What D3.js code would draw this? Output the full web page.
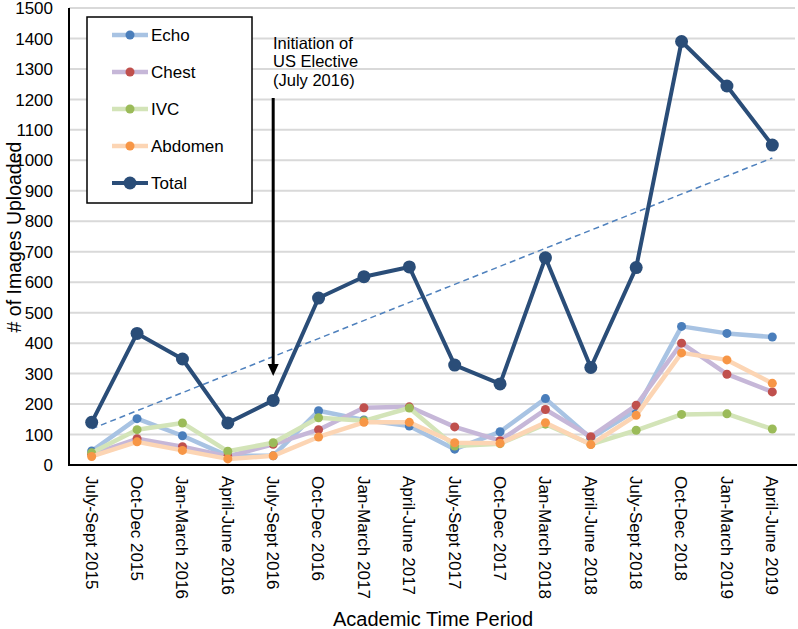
<!DOCTYPE html>
<html><head><meta charset="utf-8">
<script src="https://cdn.jsdelivr.net/npm/d3@7"></script>
<style>body{margin:0;background:#fff}svg{display:block;font-family:"Liberation Sans",Arial,Helvetica,sans-serif}</style>
</head><body><svg id="c" width="798" height="629"></svg>
<script>
const categories = ["July-Sept 2015","Oct-Dec 2015","Jan-March 2016","April-June 2016","July-Sept 2016","Oct-Dec 2016","Jan-March 2017","April-June 2017","July-Sept 2017","Oct-Dec 2017","Jan-March 2018","April-June 2018","July-Sept 2018","Oct-Dec 2018","Jan-March 2019","April-June 2019"];
const echo    = [46,152,96,30,30,178,148,128,52,109,218,88,180,455,432,420];
const chest   = [35,86,60,28,68,116,188,191,125,80,182,93,196,400,298,240];
const ivc     = [40,116,138,45,73,155,145,187,62,70,134,68,114,166,168,118];
const abdomen = [28,76,48,20,30,92,140,140,73,71,139,67,163,368,345,268];
const total   = [140,432,348,138,212,548,618,650,328,266,680,320,648,1390,1244,1050];
const yTicks  = [0,100,200,300,400,500,600,700,800,900,1000,1100,1200,1300,1400,1500];

const series = [
  {name:"Echo", values:echo, line:"#a8c3e3", dot:"#4a7ebb"},
  {name:"Chest", values:chest, line:"#c6b7d8", dot:"#c0504d"},
  {name:"IVC", values:ivc, line:"#d3e4b8", dot:"#9bbb59"},
  {name:"Abdomen", values:abdomen, line:"#fcd5b4", dot:"#f79646"},
  {name:"Total", values:total, line:"#2a4d78", dot:"#2a4d78", big:true}
];

const svg = d3.select("#c");
const L=69, R=795, T=8, B=465;
const x = d3.scaleBand().domain(categories).range([L,R]);
const y = d3.scaleLinear().domain([0,1500]).range([B,T]);
const cx = c => x(c)+x.bandwidth()/2;

// gridlines
svg.append("g").selectAll("line").data(yTicks.filter(d=>d>0)).join("line")
  .attr("x1",L).attr("x2",R).attr("y1",d=>y(d)).attr("y2",d=>y(d))
  .attr("stroke","#d9d9d9").attr("stroke-width",2);

// y tick labels
svg.append("g").selectAll("text").data(yTicks).join("text")
  .attr("x",53).attr("y",d=>y(d)).attr("dy","0.36em").attr("text-anchor","end")
  .attr("font-size",17).attr("fill","#000").text(d=>d);

// x tick labels
svg.append("g").selectAll("text").data(categories).join("text")
  .attr("transform",d=>`translate(${cx(d)},476) rotate(90)`)
  .attr("dy","0.36em").attr("text-anchor","start").attr("font-size",17).attr("fill","#000").text(d=>d);

// axis titles
svg.append("text").attr("x",433).attr("y",626).attr("text-anchor","middle")
  .attr("font-size",20).text("Academic Time Period");
svg.append("text").attr("transform",`translate(14,237) rotate(-90)`).attr("dy","0.36em").attr("text-anchor","middle")
  .attr("font-size",19.5).text("# of Images Uploaded");

const line = d3.line().x((d,i)=>cx(categories[i])).y(d=>y(d));

// sub series
series.filter(s=>!s.big).forEach(s=>{
  const g = svg.append("g");
  g.append("path").attr("d",line(s.values)).attr("fill","none").attr("stroke",s.line)
    .attr("stroke-width",4.5).attr("stroke-linejoin","round");
  g.selectAll("circle").data(s.values).join("circle")
    .attr("cx",(d,i)=>cx(categories[i])).attr("cy",d=>y(d)).attr("r",4.5).attr("fill",s.dot);
});

// linear trend of total
const n = total.length, xm = d3.mean(d3.range(n)), ym = d3.mean(total);
const slope = d3.sum(total,(v,i)=>(i-xm)*(v-ym))/d3.sum(d3.range(n),i=>(i-xm)*(i-xm));
const icpt = ym - slope*xm;
svg.append("line").attr("x1",cx(categories[0])).attr("y1",y(icpt))
  .attr("x2",cx(categories[n-1])).attr("y2",y(icpt+slope*(n-1)))
  .attr("stroke","#4f81bd").attr("stroke-width",1.5).attr("stroke-dasharray","6,4");

// total
const tg = svg.append("g");
tg.append("path").attr("d",line(total)).attr("fill","none").attr("stroke",series[4].line)
  .attr("stroke-width",4).attr("stroke-linejoin","round");
tg.selectAll("circle").data(total).join("circle")
  .attr("cx",(d,i)=>cx(categories[i])).attr("cy",d=>y(d)).attr("r",6.5).attr("fill",series[4].dot);

// axes lines
svg.append("line").attr("x1",L).attr("x2",L).attr("y1",T).attr("y2",B+1).attr("stroke","#000").attr("stroke-width",2);
svg.append("line").attr("x1",L-1).attr("x2",R+2).attr("y1",B).attr("y2",B).attr("stroke","#000").attr("stroke-width",2);

// legend
const lg = svg.append("g");
lg.append("rect").attr("x",87).attr("y",17).attr("width",165).attr("height",186)
  .attr("fill","#fff").attr("stroke","#000").attr("stroke-width",1.5);
series.forEach((s,i)=>{
  const yy = 35 + i*37;
  lg.append("line").attr("x1",112).attr("x2",148).attr("y1",yy).attr("y2",yy)
    .attr("stroke",s.line).attr("stroke-width",s.big?4:4.5);
  lg.append("circle").attr("cx",130).attr("cy",yy).attr("r",s.big?6.5:4.5).attr("fill",s.dot);
  lg.append("text").attr("x",151).attr("y",yy).attr("dy","0.36em").attr("font-size",17).text(s.name);
});

// annotation
const ann = svg.append("g");
["Initiation of","US Elective","(July 2016)"].forEach((t,i)=>{
  ann.append("text").attr("x",273).attr("y",43+i*18.5).attr("dy","0.36em").attr("font-size",16.5).text(t);
});
const ax = cx(categories[4]);
ann.append("line").attr("x1",ax).attr("x2",ax).attr("y1",98).attr("y2",366).attr("stroke","#000").attr("stroke-width",3);
ann.append("path").attr("d",`M${ax-5.5},364 L${ax+5.5},364 L${ax},376 Z`).attr("fill","#000");
</script></body></html>
